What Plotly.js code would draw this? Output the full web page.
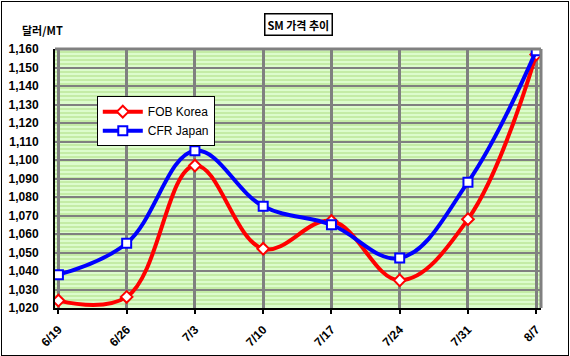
<!DOCTYPE html>
<html>
<head>
<meta charset="utf-8">
<script src="https://cdn.plot.ly/plotly-3.0.1.min.js"></script>
<style>
html,body{margin:0;padding:0;background:#fff;}
#chart{position:absolute;left:1px;top:1px;width:566px;height:353px;border:1px solid #000;}
</style>
</head>
<body>
<div id="chart"></div>
<script>
const categories = ["6/19","6/26","7/3","7/10","7/17","7/24","7/31","8/7"];
const fobKorea = [1024, 1026, 1097, 1052, 1067, 1035, 1068, 1157];
const cfrJapan = [1038, 1055, 1105, 1075, 1065, 1047, 1088, 1159];
const yTicks = [1020,1030,1040,1050,1060,1070,1080,1090,1100,1110,1120,1130,1140,1150,1160];

const idx = categories.map((c,i)=>i);
const traces = [
  {
    x: idx, y: fobKorea, name: "FOB Korea", type: "scatter", mode: "lines+markers",
    line: {color: "#ff0000", width: 4, shape: "spline", smoothing: 1.1},
    marker: {symbol: "diamond", size: 9, color: "#ffffff", line: {color: "#ff0000", width: 2}}
  },
  {
    x: idx, y: cfrJapan, name: "CFR Japan", type: "scatter", mode: "lines+markers",
    line: {color: "#0000ff", width: 4, shape: "spline", smoothing: 1.1},
    marker: {symbol: "square", size: 9, color: "#ffffff", line: {color: "#0000ff", width: 2}}
  }
];

const tickFont = {family: "Liberation Sans, Arial, sans-serif", size: 12, color: "#000", weight: "bold"};

const layout = {
  width: 566, height: 353,
  margin: {l: 53, r: 27, t: 47, b: 47, pad: 0},
  paper_bgcolor: "#ffffff",
  plot_bgcolor: "#dcfccc",
  showlegend: true,
  legend: {
    x: 0.086, y: 0.818, xanchor: "left", yanchor: "top",
    bgcolor: "#ffffff", bordercolor: "#000", borderwidth: 1,
    font: {family: "Liberation Sans, Arial, sans-serif", size: 12, color: "#000"},
    tracegroupgap: 2, itemwidth: 40
  },
  xaxis: {
    type: "linear",
    range: [-0.05, 7.07],
    tickvals: idx, ticktext: categories,
    tickangle: -45,
    tickfont: tickFont,
    showgrid: true, gridcolor: "#808080", gridwidth: 3,
    ticks: "outside", ticklen: 4, tickwidth: 2, tickcolor: "#000",
    ticklabelstandoff: 4,
    showline: true, linecolor: "#000", linewidth: 2,
    zeroline: false, fixedrange: true
  },
  yaxis: {
    range: [1020, 1160],
    tickvals: yTicks, ticktext: yTicks.map(v => v.toLocaleString("en-US")),
    tickfont: tickFont,
    ticklabelstandoff: 12,
    showgrid: true, gridcolor: "#808080", gridwidth: 2,
    minor: {dtick: 2.2, tick0: 1020, showgrid: true, gridcolor: "#c4eca6", gridwidth: 2, ticks: ""},
    ticks: "", showline: true, linecolor: "#000", linewidth: 2,
    zeroline: false, fixedrange: true
  },
  shapes: [
    {type: "line", xref: "paper", yref: "paper", x0: 0, x1: 1, y0: 1, y1: 1, line: {color: "#808080", width: 3}},
    {type: "line", xref: "paper", yref: "paper", x0: 1, x1: 1, y0: 0, y1: 1, line: {color: "#808080", width: 3}}
  ],
  annotations: [
    {
      text: "<b>SM 가격 추이</b>", xref: "paper", yref: "paper",
      x: (298 - 55) / 486, y: 1 + (49 - 25) / 259, xanchor: "center", yanchor: "middle",
      showarrow: false, bgcolor: "#ffffff", bordercolor: "#000", borderwidth: 1.5, borderpad: 2,
      font: {family: "Noto Sans CJK KR, Liberation Sans, sans-serif", size: 11, color: "#000"}
    },
    {
      text: "<b>달러/MT</b>", xref: "paper", yref: "paper",
      x: (42 - 55) / 486, y: 1 + (49 - 30) / 259, xanchor: "center", yanchor: "middle",
      showarrow: false,
      font: {family: "Noto Sans CJK KR, Liberation Sans, sans-serif", size: 11, color: "#000"}
    }
  ]
};

Plotly.newPlot("chart", traces, layout, {displayModeBar: false, staticPlot: true});
</script>
</body>
</html>
